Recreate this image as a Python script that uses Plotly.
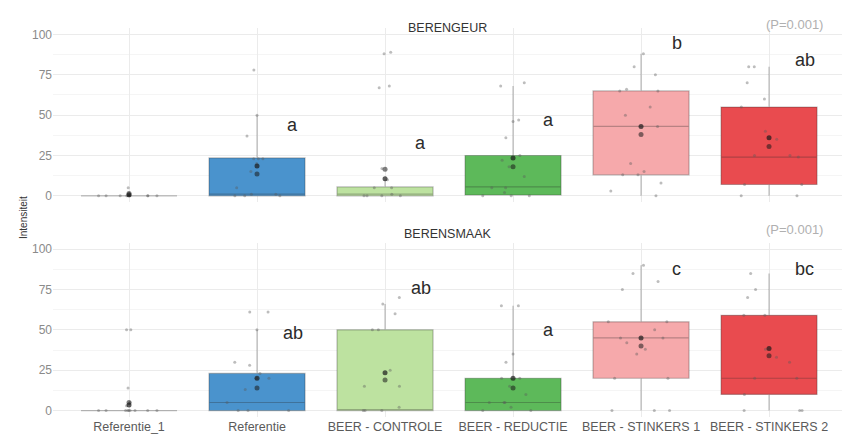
import plotly.graph_objects as go
from plotly.subplots import make_subplots

# Categories (x axis)
categories = ["Referentie_1", "Referentie", "BEER - CONTROLE", "BEER - REDUCTIE",
              "BEER - STINKERS 1", "BEER - STINKERS 2"]
box_colors = ["#cfcfcf", "#4a93cd", "#bde2a0", "#5db95a", "#f6a9ab", "#e94b4f"]

# BERENGEUR: box statistics per category
geur_q1 = [0, 0, 0, 0.5, 13, 7]
geur_med = [0, 1, 1, 5.5, 43, 24]
geur_q3 = [0, 23.5, 5.5, 25, 65, 55]
geur_lo = [0, 0, 0, 0, 0, 0]
geur_hi = [0, 50, 10, 68, 88, 80]
geur_mean1 = [0.6, 18.5, 10.5, 23.5, 43, 36]
geur_mean2 = [1.5, 13.5, 16.5, 18, 38, 30.5]
geur_points = [
    [0, 0, 0, 0, 0, 0, 0, 0, 0, 0, 0, 5],
    [78, 50, 37, 23, 23, 23, 20, 15, 5, 1, 1, 0, 0, 0],
    [89, 88, 68, 67, 17, 10, 5, 5, 1, 0, 0, 0, 0],
    [70, 68, 47, 46, 36, 25, 22, 18, 12, 5, 5, 2, 0, 0, 0],
    [88, 80, 75, 66, 65, 65, 55, 50, 43, 20, 15, 13, 13, 8, 3, 0],
    [80, 80, 70, 60, 55, 40, 35, 25, 25, 24, 7, 7, 0, 0],
]
geur_letters = ["", "a", "a", "a", "b", "ab"]
geur_letter_y = [None, 44, 33, 47, 95, 84]

# BERENSMAAK: box statistics per category
smaak_q1 = [0, 0, 0, 0, 20, 10]
smaak_med = [0, 5, 0.5, 5, 45, 20]
smaak_q3 = [0, 23, 50, 20, 55, 59]
smaak_lo = [0, 0, 0, 0, 0, 0]
smaak_hi = [0, 50, 66, 65, 90, 85]
smaak_mean1 = [3.5, 20, 23.5, 20, 45, 38.5]
smaak_mean2 = [5, 14, 19, 14, 40, 34]
smaak_points = [
    [50, 50, 14, 5, 3, 0, 0, 0, 0, 0, 0, 0, 0, 0],
    [61, 61, 50, 30, 28, 23, 20, 20, 13, 5, 0, 0, 0],
    [70, 66, 60, 50, 50, 25, 15, 15, 2, 0, 0, 0],
    [65, 65, 35, 30, 20, 20, 15, 10, 5, 5, 5, 2, 0, 0],
    [90, 85, 80, 75, 55, 55, 50, 45, 45, 42, 38, 35, 20, 20, 0, 0, 0],
    [85, 75, 70, 59, 59, 38, 33, 30, 20, 20, 10, 0, 0, 0],
]
smaak_letters = ["", "ab", "ab", "a", "c", "bc"]
smaak_letter_y = [None, 48, 76, 50, 88, 88]

panel_titles = ["BERENGEUR", "BERENSMAAK"]
p_labels = ["(P=0.001)", "(P=0.001)"]
y_title = "Intensiteit"
y_ticks = [0, 25, 50, 75, 100]

FONT = "Liberation Sans, Arial, sans-serif"

fig = make_subplots(rows=2, cols=1, shared_xaxes=True)

panels = [
    (geur_q1, geur_med, geur_q3, geur_lo, geur_hi, geur_mean1, geur_mean2,
     geur_points, geur_letters, geur_letter_y),
    (smaak_q1, smaak_med, smaak_q3, smaak_lo, smaak_hi, smaak_mean1, smaak_mean2,
     smaak_points, smaak_letters, smaak_letter_y),
]

for r, (q1, med, q3, lo, hi, m1, m2, pts, letters, letter_y) in enumerate(panels, start=1):
    # one summary box per category
    for i, cat in enumerate(categories):
        fig.add_trace(go.Box(
            x=[cat], q1=[q1[i]], median=[med[i]], q3=[q3[i]],
            lowerfence=[lo[i]], upperfence=[hi[i]],
            width=0.75, whiskerwidth=0,
            fillcolor=box_colors[i],
            line=dict(color="rgba(40,40,40,0.3)", width=1.2),
            boxpoints=False, showlegend=False, hoverinfo="skip",
        ), row=r, col=1)
    # individual observations, jittered over the box width
    xs, ys = [], []
    for i, cat in enumerate(categories):
        xs += [cat] * len(pts[i])
        ys += pts[i]
    fig.add_trace(go.Box(
        x=xs, y=ys, width=0.75, boxpoints="all", jitter=0.75, pointpos=0,
        fillcolor="rgba(0,0,0,0)", line=dict(width=0, color="rgba(0,0,0,0)"),
        marker=dict(size=3, color="rgba(90,90,90,0.4)"),
        showlegend=False, hoverinfo="skip",
    ), row=r, col=1)
    # group means
    fig.add_trace(go.Scatter(
        x=categories, y=m1, mode="markers",
        marker=dict(size=5, color="rgba(25,25,25,0.7)"),
        showlegend=False, hoverinfo="skip",
    ), row=r, col=1)
    fig.add_trace(go.Scatter(
        x=categories, y=m2, mode="markers",
        marker=dict(size=5, color="rgba(25,25,25,0.55)"),
        showlegend=False, hoverinfo="skip",
    ), row=r, col=1)
    # significance letters
    xa = "x" if r == 1 else "x2"
    ya = "y" if r == 1 else "y2"
    for i, cat in enumerate(categories):
        if letters[i]:
            fig.add_annotation(
                x=i + 0.28, y=letter_y[i], xref=xa, yref=ya, text=letters[i],
                showarrow=False, font=dict(family=FONT, size=18, color="#2b2b2b"),
            )

grid = "#ebebeb"
minor_grid = "#f5f5f5"
for r in (1, 2):
    fig.update_yaxes(
        row=r, col=1, range=[-4, 104], tickvals=y_ticks, ticks="",
        showgrid=True, gridcolor=grid, gridwidth=1, zeroline=False,
        minor=dict(dtick=12.5, showgrid=True, gridcolor=minor_grid, gridwidth=0.8),
        tickfont=dict(family=FONT, size=12, color="#8a8a8a"), showline=False,
    )
    fig.update_xaxes(
        row=r, col=1, type="category", categoryorder="array", categoryarray=categories,
        range=[-0.594, 5.57], showgrid=True, gridcolor=grid, ticks="", showline=False,
        zeroline=False, tickfont=dict(family=FONT, size=12.5, color="#5a5a5a"),
    )
fig.update_xaxes(row=1, col=1, showticklabels=False)

fig.update_layout(
    width=842, height=435,
    margin=dict(l=53, r=0, t=28, b=18),
    plot_bgcolor="white", paper_bgcolor="white",
    boxmode="overlay",
    yaxis=dict(domain=[0.552, 1.0]),
    yaxis2=dict(domain=[0.0, 0.448]),
)

# panel titles, p-values and the shared y title
for ypos, title in zip([1.023, 0.470], panel_titles):
    fig.add_annotation(x=0.5, y=ypos, xref="paper", yref="paper", text=title,
                       showarrow=False, font=dict(family=FONT, size=12.5, color="#333333"))
for ypos, lab in zip([1.033, 0.481], p_labels):
    fig.add_annotation(x=0.978, y=ypos, xref="paper", yref="paper", text=lab,
                       xanchor="right", showarrow=False,
                       font=dict(family=FONT, size=13, color="#b0b0b0"))
fig.add_annotation(x=-0.046, y=0.512, xref="paper", yref="paper", text=y_title,
                   textangle=-90, showarrow=False,
                   font=dict(family=FONT, size=10, color="#333333"))

fig.write_html("out.html")
